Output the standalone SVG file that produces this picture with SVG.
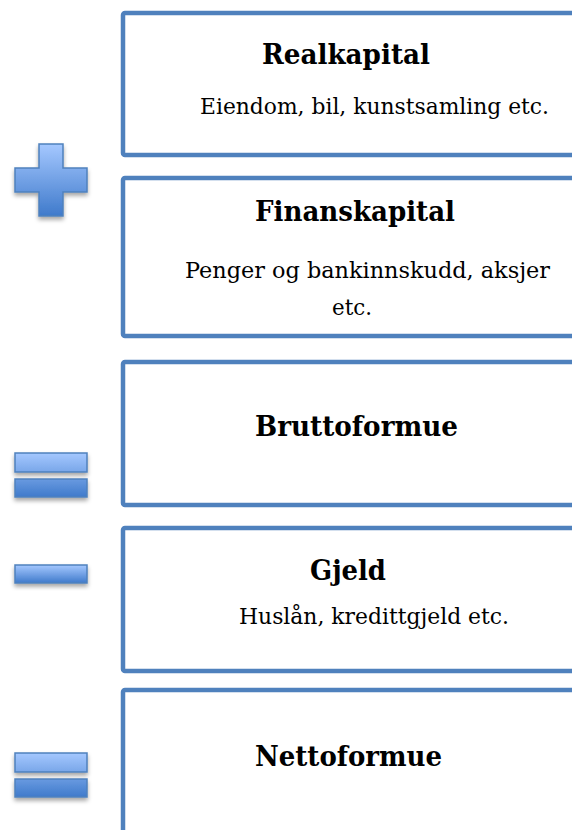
<svg xmlns="http://www.w3.org/2000/svg" width="572" height="830" viewBox="0 0 572 830">
<defs>
<linearGradient id="g" x1="0" y1="0" x2="0" y2="1">
<stop offset="0" stop-color="#A5C8FF"/>
<stop offset="1" stop-color="#3F7ACB"/>
</linearGradient>
<filter id="sh" x="-20%" y="-20%" width="140%" height="160%">
<feDropShadow dx="0" dy="3" stdDeviation="2" flood-color="#000" flood-opacity="0.35"/>
</filter>
<style>
.box{fill:#fff;stroke:#4F81BD;stroke-width:4.5}
.sym{fill:url(#g);stroke:#4F81BD;stroke-width:1.5;filter:url(#sh)}
.t{font-family:"DejaVu Serif","Liberation Serif",serif;fill:#000}
.h{font-size:27px;font-weight:bold}
.r{font-size:23px}
</style>
</defs>
<g id="symbols">
<path class="sym" d="M39,144 H63 V168 H87 V192 H63 V216 H39 V192 H15 V168 H39 Z"/>
<path class="sym" d="M15,453 H87 V472 H15 Z M15,479 H87 V497 H15 Z"/>
<path class="sym" d="M15,565 H87 V583 H15 Z"/>
<path class="sym" d="M15,753 H87 V772 H15 Z M15,779 H87 V797 H15 Z"/>
</g>
<g id="realkapital">
<rect class="box" x="123" y="13" width="520" height="142" rx="2"/>
<text class="t h" x="262" y="64" textLength="168" lengthAdjust="spacingAndGlyphs">Realkapital</text>
<text class="t r" x="200" y="114" textLength="349" lengthAdjust="spacingAndGlyphs">Eiendom, bil, kunstsamling etc.</text>
</g>
<g id="finanskapital">
<rect class="box" x="123" y="178" width="520" height="158" rx="2"/>
<text class="t h" x="255" y="221" textLength="200" lengthAdjust="spacingAndGlyphs">Finanskapital</text>
<text class="t r" x="185" y="278" textLength="365" lengthAdjust="spacingAndGlyphs">Penger og bankinnskudd, aksjer</text>
<text class="t r" x="332" y="315" textLength="40" lengthAdjust="spacingAndGlyphs">etc.</text>
</g>
<g id="bruttoformue">
<rect class="box" x="123" y="362" width="520" height="143" rx="2"/>
<text class="t h" x="255" y="436" textLength="203" lengthAdjust="spacingAndGlyphs">Bruttoformue</text>
</g>
<g id="gjeld">
<rect class="box" x="123" y="528" width="520" height="143" rx="2"/>
<text class="t h" x="310" y="580" textLength="76" lengthAdjust="spacingAndGlyphs">Gjeld</text>
<text class="t r" x="239" y="624" textLength="270" lengthAdjust="spacingAndGlyphs">Huslån, kredittgjeld etc.</text>
</g>
<g id="nettoformue">
<rect class="box" x="123" y="690" width="520" height="200" rx="2"/>
<text class="t h" x="255" y="766" textLength="187" lengthAdjust="spacingAndGlyphs">Nettoformue</text>
</g>
<g id="connectors"/>
</svg>
